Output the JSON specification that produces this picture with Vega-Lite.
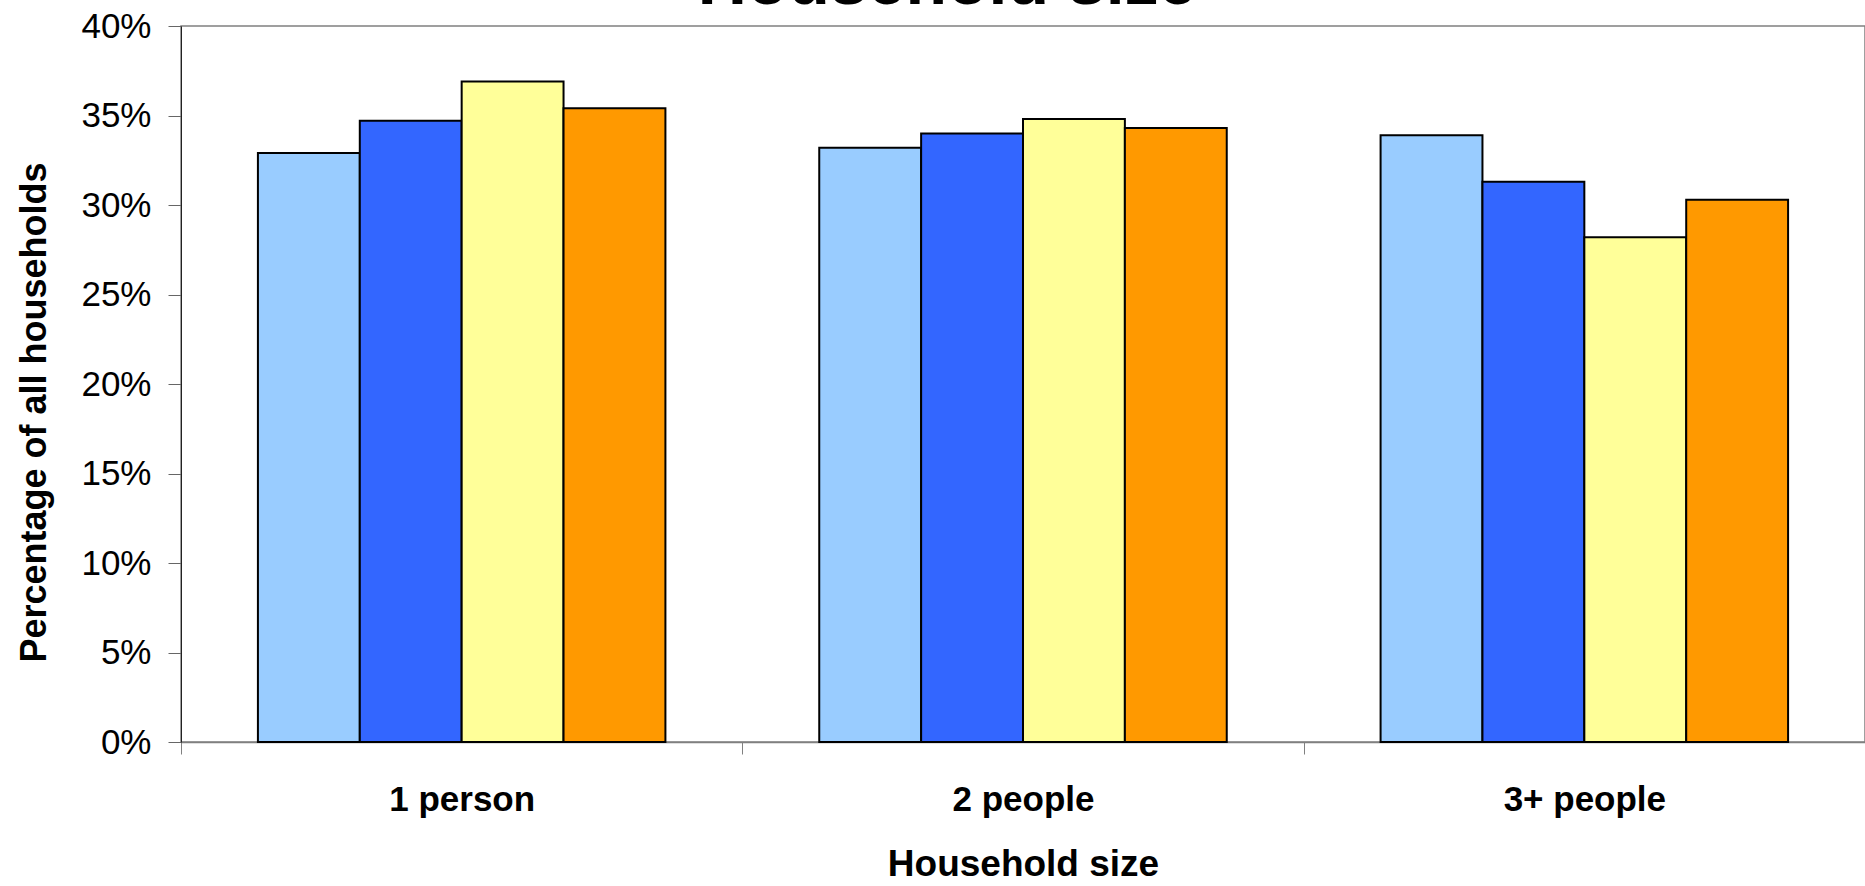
{
  "$schema": "https://vega.github.io/schema/vega-lite/v6.json",
  "width": 1684,
  "height": 716,
  "autosize": {"type": "none"},
  "padding": {"left": 181, "top": 26, "right": 0, "bottom": 144},
  "background": "white",
  "title": {
    "text": "Household size",
    "font": "Liberation Sans",
    "fontSize": 68,
    "fontWeight": "bold",
    "color": "black",
    "anchor": "middle",
    "offset": -9,
    "dx": -76
  },
  "data": {
    "values": [
      {"category": "1 person", "series": "Series 1", "value": 0.329},
      {"category": "1 person", "series": "Series 2", "value": 0.347},
      {"category": "1 person", "series": "Series 3", "value": 0.369},
      {"category": "1 person", "series": "Series 4", "value": 0.354},
      {"category": "2 people", "series": "Series 1", "value": 0.332},
      {"category": "2 people", "series": "Series 2", "value": 0.340},
      {"category": "2 people", "series": "Series 3", "value": 0.348},
      {"category": "2 people", "series": "Series 4", "value": 0.343},
      {"category": "3+ people", "series": "Series 1", "value": 0.339},
      {"category": "3+ people", "series": "Series 2", "value": 0.313},
      {"category": "3+ people", "series": "Series 3", "value": 0.282},
      {"category": "3+ people", "series": "Series 4", "value": 0.303}
    ]
  },
  "mark": {"type": "bar", "stroke": "black", "strokeWidth": 2, "opacity": 1},
  "encoding": {
    "x": {
      "field": "category",
      "type": "nominal",
      "sort": ["1 person", "2 people", "3+ people"],
      "scale": {"paddingInner": 0, "paddingOuter": 0},
      "axis": {
        "title": "Household size",
        "labelAngle": 0,
        "labelFont": "Liberation Sans",
        "labelFontSize": 35,
        "labelFontWeight": "bold",
        "labelColor": "black",
        "labelBaseline": "alphabetic",
        "labelPadding": 56,
        "tickSize": 12,
        "tickColor": "#808080",
        "tickBand": "extent",
        "domainColor": "#808080",
        "domainWidth": 1.5,
        "titleFont": "Liberation Sans",
        "titleFontSize": 37,
        "titleFontWeight": "bold",
        "titleColor": "black",
        "titleBaseline": "alphabetic",
        "titleY": 133
      }
    },
    "xOffset": {
      "field": "series",
      "type": "nominal",
      "sort": ["Series 1", "Series 2", "Series 3", "Series 4"],
      "scale": {"paddingInner": 0, "paddingOuter": 0.755}
    },
    "y": {
      "field": "value",
      "type": "quantitative",
      "scale": {"domain": [0, 0.4], "nice": false},
      "axis": {
        "title": "Percentage of all households",
        "format": "%",
        "values": [0, 0.05, 0.1, 0.15, 0.2, 0.25, 0.3, 0.35, 0.4],
        "grid": false,
        "labelFont": "Liberation Sans",
        "labelFontSize": 35,
        "labelColor": "black",
        "labelPadding": 17,
        "tickSize": 13,
        "tickColor": "#666666",
        "domainColor": "#222222",
        "titleFont": "Liberation Sans",
        "titleFontSize": 36,
        "titleFontWeight": "bold",
        "titleColor": "black",
        "titleX": -147,
        "titleY": 386,
        "titleAlign": "center",
        "titleBaseline": "middle",
        "titleAngle": -90
      }
    },
    "color": {
      "field": "series",
      "type": "nominal",
      "scale": {
        "domain": ["Series 1", "Series 2", "Series 3", "Series 4"],
        "range": ["#99CCFF", "#3366FF", "#FFFF99", "#FF9900"]
      },
      "legend": null
    }
  },
  "config": {
    "view": {"stroke": "#808080", "strokeWidth": 1.5}
  }
}
